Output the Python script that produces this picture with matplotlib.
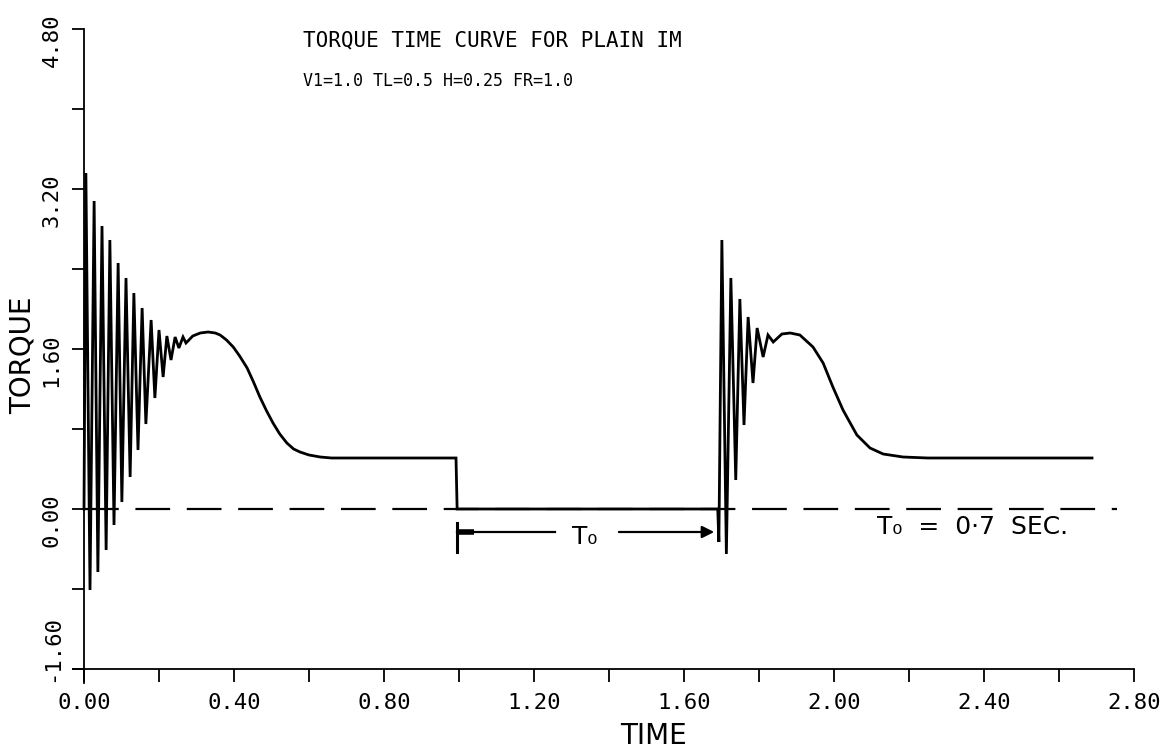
"""
Torque-time curve for a plain induction motor, redrawn from a plotter chart.
"""

import matplotlib
matplotlib.use('Agg')
import matplotlib.pyplot as plt
import matplotlib.transforms as mtransforms

# Curve vertices: time (s) and torque (pu)
time = [0.000, 0.005, 0.016, 0.027, 0.037, 0.048, 0.059, 0.069, 0.080, 0.091,
        0.101, 0.112, 0.123, 0.133, 0.144, 0.155, 0.165, 0.179, 0.189, 0.200,
        0.211, 0.221, 0.232, 0.243, 0.253, 0.264, 0.272, 0.290, 0.310, 0.331,
        0.350, 0.363, 0.380, 0.398, 0.415, 0.435, 0.452, 0.469, 0.487, 0.504,
        0.522, 0.541, 0.559, 0.576, 0.600, 0.630, 0.660, 0.992, 0.995, 1.690,
        1.693, 1.701, 1.713, 1.725, 1.738, 1.749, 1.760, 1.771, 1.784, 1.795,
        1.811, 1.824, 1.838, 1.861, 1.883, 1.909, 1.944, 1.971, 1.997, 2.024,
        2.061, 2.096, 2.131, 2.184, 2.250, 2.688]
torque = [0.00, 3.36, -0.81, 3.08, -0.63, 2.83, -0.41, 2.69, -0.16, 2.46,
          0.07, 2.31, 0.32, 2.16, 0.59, 2.01, 0.85, 1.89, 1.11, 1.79,
          1.32, 1.73, 1.49, 1.72, 1.61, 1.72, 1.66, 1.73, 1.76, 1.77,
          1.76, 1.74, 1.69, 1.62, 1.53, 1.41, 1.27, 1.12, 0.98, 0.86,
          0.75, 0.66, 0.60, 0.57, 0.54, 0.52, 0.51, 0.51, 0.00, 0.00,
          -0.33, 2.69, -0.45, 2.31, 0.29, 2.10, 0.84, 1.92, 1.26, 1.81,
          1.52, 1.74, 1.67, 1.75, 1.76, 1.74, 1.62, 1.46, 1.22, 0.99,
          0.74, 0.61, 0.55, 0.52, 0.51, 0.51]

zero_line_end = 2.755
off_time = 0.995   # supply switched off
on_time = 1.69     # supply switched back on

xticks = [0.0, 0.2, 0.4, 0.6, 0.8, 1.0, 1.2, 1.4, 1.6, 1.8, 2.0, 2.2, 2.4, 2.6, 2.8]
xticklabels = ['0.00', '', '0.40', '', '0.80', '', '1.20', '', '1.60', '',
               '2.00', '', '2.40', '', '2.80']
yticks = [-1.6, -0.8, 0.0, 0.8, 1.6, 2.4, 3.2, 4.0, 4.8]
yticklabels = ['-1.60', '', '0.00', '', '1.60', '', '3.20', '', '4.80']

plt.rcParams['lines.scale_dashes'] = False
mono = 'DejaVu Sans Mono'
W, H = 1170, 755

fig = plt.figure(figsize=(W/100, H/100), dpi=100)
ax = fig.add_axes([69/W, 1 - 684/H, 1072.5/W, 660/H])
ax.set_xlim(-0.04, 2.82)
ax.set_ylim(-1.75, 4.85)

# Curve and zero reference
ax.plot(time, torque, color='k', lw=2.0, solid_joinstyle='miter')
ax.hlines(0, 0, zero_line_end, color='k', lw=1.6, linestyles=(0, (25, 12)))

# Axes drawn like the plotter: crossed lines, outward ticks
for side in ['top', 'right']:
    ax.spines[side].set_visible(False)
ax.spines['left'].set_position(('data', 0))
ax.spines['bottom'].set_position(('data', -1.6))
ax.spines['left'].set_bounds(-1.74, 4.8)
ax.spines['bottom'].set_bounds(-0.03, 2.8)
for side in ['left', 'bottom']:
    ax.spines[side].set_linewidth(1.3)

ax.set_xticks(xticks)
ax.set_xticklabels(xticklabels, family=mono, fontsize=16)
ax.set_yticks(yticks)
ax.set_yticklabels(yticklabels, family=mono, fontsize=16, rotation=90, va='center')
ax.tick_params(axis='x', direction='out', length=9, width=1.3, pad=8)
ax.tick_params(axis='y', direction='out', length=9, width=1.3, pad=7)
# plotter labels sit a little below their ticks; the bottom one sits higher
for lab in ax.get_yticklabels():
    dy = 20 if lab.get_text() == '-1.60' else -11
    shift = mtransforms.ScaledTranslation(0, dy/100, fig.dpi_scale_trans)
    lab.set_transform(lab.get_transform() + shift)

# Titles and axis names
ax.text(0.584, 4.69, 'TORQUE TIME CURVE FOR PLAIN IM', family=mono, fontsize=15, va='center')
ax.text(0.584, 4.28, 'V1=1.0 TL=0.5 H=0.25 FR=1.0', family=mono, fontsize=12, va='center')
fig.text(23/W, 1 - 355/H, 'TORQUE', fontsize=20, rotation=90, ha='center', va='center')
fig.text(654/W, 1 - 736/H, 'TIME', fontsize=20, ha='center', va='center')

# Off-time marker T0
yarr = -0.23
ax.plot([off_time, off_time], [-0.14, -0.43], color='k', lw=2.2)
ax.plot([off_time, off_time + 0.045], [yarr, yarr], color='k', lw=4, solid_capstyle='butt')
ax.plot([off_time, 1.256], [yarr, yarr], color='k', lw=1.6)
ax.annotate('', xy=(on_time - 0.002, yarr), xytext=(1.419, yarr),
            arrowprops=dict(arrowstyle='-|>', lw=1.6, color='k', mutation_scale=18))
ax.text(1.336, -0.28, 'T\u2080', fontsize=18, ha='center', va='center')
ax.text(2.115, -0.18, 'T\u2080  =  0\u00b77  SEC.', fontsize=18, va='center')

fig.savefig('out.png', dpi=100)
